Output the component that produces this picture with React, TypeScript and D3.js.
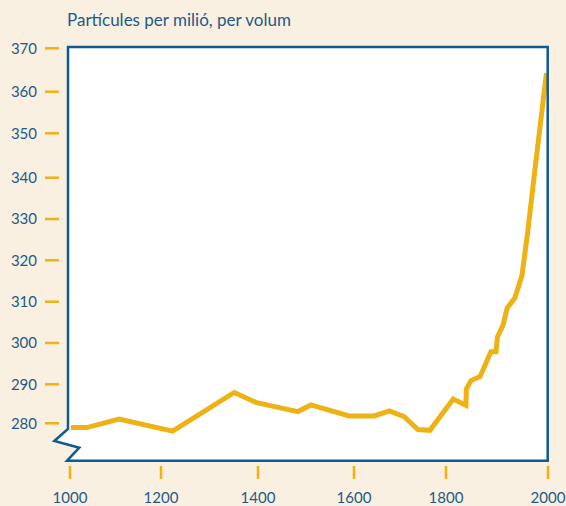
import React from "react";
import * as d3 from "d3";

// ---- Data ----
const years = [
  1002, 1037, 1108, 1224, 1351, 1397, 1483, 1510, 1590, 1644, 1677, 1709,
  1739, 1765, 1814, 1839, 1840, 1849, 1867, 1888, 1898, 1901, 1912, 1920,
  1935, 1949, 1960, 1975, 1997,
];
const ppm = [
  278.9, 278.9, 281.1, 278.0, 287.9, 285.3, 283.0, 284.7, 281.9, 281.9, 283.2,
  281.7, 278.4, 278.2, 286.2, 284.6, 288.8, 290.9, 291.9, 297.9, 297.9, 301.5,
  304.4, 308.5, 310.9, 316.4, 326.6, 342.4, 364.3,
];
const xTicks = [1000, 1200, 1400, 1600, 1800, 2000];
const yTicks = [280, 290, 300, 310, 320, 330, 340, 350, 360, 370];
const title = "Partícules per milió, per volum";

const W = 566;
const H = 506;
const BG = "#faf0e1";
const BLUE = "#0e5a93";
const TEXT = "#1d5a8a";
const GOLD = "#efb214";
const FONT = "Lato, 'Open Sans', sans-serif";

// hand-drawn axes in the original are slightly irregular: polylinear scales
const x = d3
  .scaleLinear()
  .domain(xTicks)
  .range([70, 161, 258, 354, 446, 548]);
const y = d3
  .scaleLinear()
  .domain(yTicks)
  .range([423.3, 384.3, 343, 301.7, 260.3, 219, 177.7, 133.3, 91.7, 48.3]);

export default function App() {
  const data = years.map((yr, i) => [yr, ppm[i]] as [number, number]);
  const line = d3
    .line<[number, number]>()
    .x((d) => x(d[0]))
    .y((d) => y(d[1]))(data) as string;

  const L = 68;
  const R = 547.7;
  const T = 47;
  const B = 460.7;
  const frame = `M${L},${T} L${R},${T} L${R},${B} L${L - 1},${B} L79.3,447.7 L54.3,441 L${L},429 Z`;

  return (
    <svg
      width={W}
      height={H}
      style={{ position: "absolute", left: 0, top: 0, display: "block" }}
    >
      <rect x={0} y={0} width={W} height={H} fill={BG} />
      <text
        x={67}
        y={26}
        fill={TEXT}
        fontFamily={FONT}
        fontSize={17}
      >
        {title}
      </text>
      <path d={frame} fill="#ffffff" stroke="none" />
      <path
        d={line}
        fill="none"
        stroke={GOLD}
        strokeWidth={5}
        strokeLinejoin="miter"
        strokeLinecap="butt"
      />
      <path
        d={frame}
        fill="none"
        stroke={BLUE}
        strokeWidth={2.5}
        strokeLinejoin="miter"
      />
      {yTicks.map((t) => (
        <g key={t}>
          <line
            x1={45}
            x2={59}
            y1={y(t)}
            y2={y(t)}
            stroke={GOLD}
            strokeWidth={2.5}
          />
          <text
            x={37}
            y={y(t)}
            dy="0.35em"
            textAnchor="end"
            fill={TEXT}
            fontFamily={FONT}
            fontSize={15}
          >
            {t}
          </text>
        </g>
      ))}
      {xTicks.map((t) => (
        <g key={t}>
          <line
            x1={x(t)}
            x2={x(t)}
            y1={466}
            y2={479}
            stroke={GOLD}
            strokeWidth={2.5}
          />
          <text
            x={x(t)}
            y={503}
            textAnchor="middle"
            fill={TEXT}
            fontFamily={FONT}
            fontSize={15}
          >
            {t}
          </text>
        </g>
      ))}
    </svg>
  );
}
